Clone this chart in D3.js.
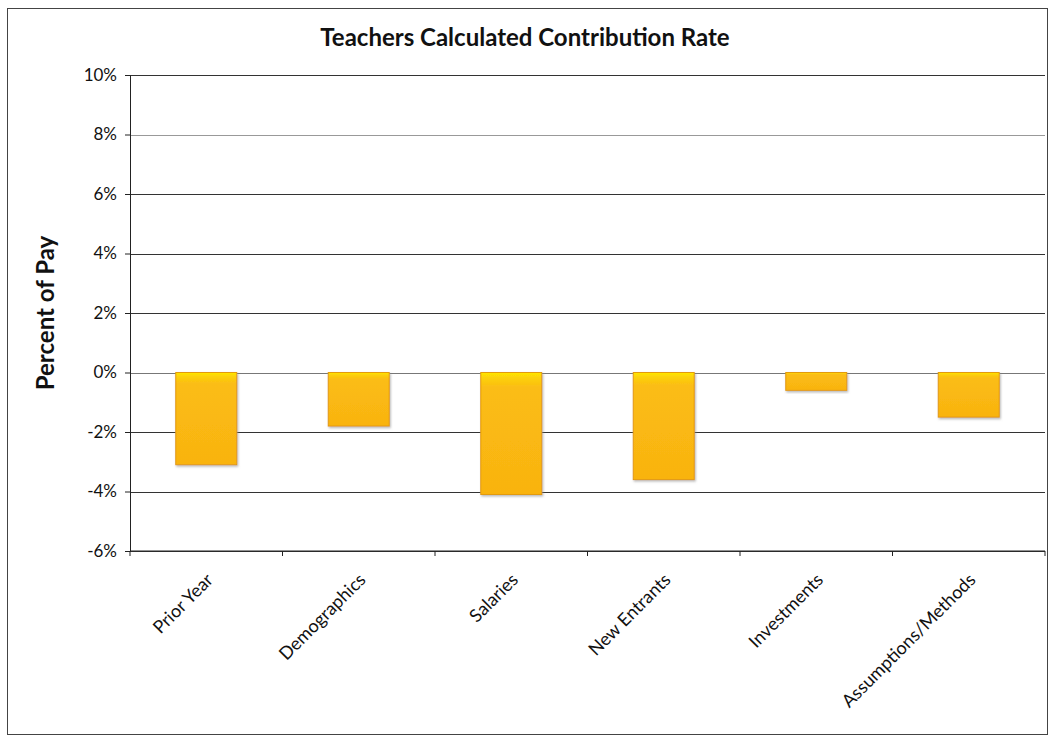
<!DOCTYPE html>
<html>
<head>
<meta charset="utf-8">
<style>
body { margin: 0; background: #fff; }
svg { font-family: Lato, 'Open Sans', sans-serif; }
.axis .domain { stroke: #222; }
.axis line { stroke: #222; }
.axis text { fill: #111; }
</style>
</head>
<body>
<svg width="1050" height="737"></svg>
<script src="https://d3js.org/d3.v7.min.js"></script>
<script>
// chart data
var categories = ["Prior Year", "Demographics", "Salaries", "New Entrants", "Investments", "Assumptions/Methods"];
var values = [-3.1, -1.8, -4.1, -3.6, -0.6, -1.5];
var yTicks = [-6, -4, -2, 0, 2, 4, 6, 8, 10];

var svg = d3.select("svg"),
    margin = {top: 75, right: 5, bottom: 186, left: 130},
    width = +svg.attr("width") - margin.left - margin.right,
    height = +svg.attr("height") - margin.top - margin.bottom,
    g = svg.append("g").attr("transform", "translate(" + margin.left + "," + margin.top + ")");

// outer frame
svg.append("rect")
    .attr("x", 7.5).attr("y", 8.5)
    .attr("width", 1040).attr("height", 726)
    .attr("fill", "none")
    .attr("stroke", "#444")
    .attr("stroke-width", 1);

var defs = svg.append("defs");
var grad = defs.append("linearGradient")
    .attr("id", "barGrad")
    .attr("x1", 0).attr("y1", 0).attr("x2", 0).attr("y2", 1);
grad.append("stop").attr("offset", "0%").attr("stop-color", "#ffe800");
grad.append("stop").attr("offset", "4%").attr("stop-color", "#fcd20a");
grad.append("stop").attr("offset", "12%").attr("stop-color", "#fbbd14");
grad.append("stop").attr("offset", "100%").attr("stop-color", "#f9b310");

var shadow = defs.append("filter").attr("id", "shadow")
    .attr("x", "-10%").attr("y", "-10%").attr("width", "130%").attr("height", "130%");
shadow.append("feDropShadow")
    .attr("dx", 1).attr("dy", 1.5).attr("stdDeviation", 1)
    .attr("flood-color", "#888").attr("flood-opacity", 0.6);

var x = d3.scaleBand()
    .domain(categories)
    .range([0, width])
    .paddingInner(0.6)
    .paddingOuter(0.3);

var y = d3.scaleLinear()
    .domain([-6, 10])
    .range([height, 0]);

// gridlines
g.append("g")
    .selectAll("line")
    .data(yTicks)
    .enter().append("line")
      .attr("x1", 0)
      .attr("x2", width)
      .attr("y1", function(d) { return Math.round(y(d)) + 0.5; })
      .attr("y2", function(d) { return Math.round(y(d)) + 0.5; })
      .attr("stroke", function(d) { return d === 0 ? "#777" : (d === 8 ? "#999" : "#333"); })
      .attr("stroke-width", 1);

// bars
g.append("g")
    .selectAll("rect")
    .data(values)
    .enter().append("rect")
      .attr("x", function(d, i) { return x(categories[i]); })
      .attr("y", function(d) { return y(Math.max(0, d)); })
      .attr("width", x.bandwidth())
      .attr("height", function(d) { return Math.abs(y(d) - y(0)); })
      .attr("fill", "url(#barGrad)")
      .attr("stroke", "#e39a0a")
      .attr("stroke-width", 1)
      .attr("filter", "url(#shadow)");

// y axis
var yAxis = g.append("g")
    .attr("class", "axis")
    .call(d3.axisLeft(y).tickValues(yTicks).tickSize(5).tickPadding(8)
      .tickFormat(function(d) { return d + "%"; }))
    .attr("font-family", "Lato, 'Open Sans', sans-serif")
    .attr("font-size", 17);

// x axis, band edges as ticks
var xAxis = g.append("g")
    .attr("class", "axis")
    .attr("transform", "translate(0," + height + ")");
xAxis.append("line")
    .attr("x1", 0).attr("x2", width)
    .attr("stroke", "#222");
var step = x.step();
var edges = d3.range(categories.length + 1).map(function(i) {
  return x(categories[0]) + x.bandwidth() / 2 - step / 2 + i * step;
});
xAxis.selectAll(".edge")
    .data(edges)
    .enter().append("line")
      .attr("class", "edge")
      .attr("x1", function(d) { return d; })
      .attr("x2", function(d) { return d; })
      .attr("y1", 0).attr("y2", 5)
      .attr("stroke", "#222");

xAxis.selectAll(".cat")
    .data(categories)
    .enter().append("text")
      .attr("class", "cat")
      .attr("transform", function(d) {
        return "translate(" + (x(d) + x.bandwidth() / 2 + 8) + ",30) rotate(-45)";
      })
      .attr("text-anchor", "end")
      .attr("font-size", 18)
      .attr("fill", "#111")
      .text(function(d) { return d; });

// title
svg.append("text")
    .attr("x", 525)
    .attr("y", 46)
    .attr("text-anchor", "middle")
    .attr("font-size", 24)
    .attr("font-weight", "bold")
    .attr("fill", "#111")
    .text("Teachers Calculated Contribution Rate");

// y axis title
svg.append("text")
    .attr("transform", "translate(54," + (margin.top + y(2)) + ") rotate(-90)")
    .attr("text-anchor", "middle")
    .attr("font-size", 24)
    .attr("font-weight", "bold")
    .attr("fill", "#111")
    .text("Percent of Pay");
</script>
</body>
</html>
